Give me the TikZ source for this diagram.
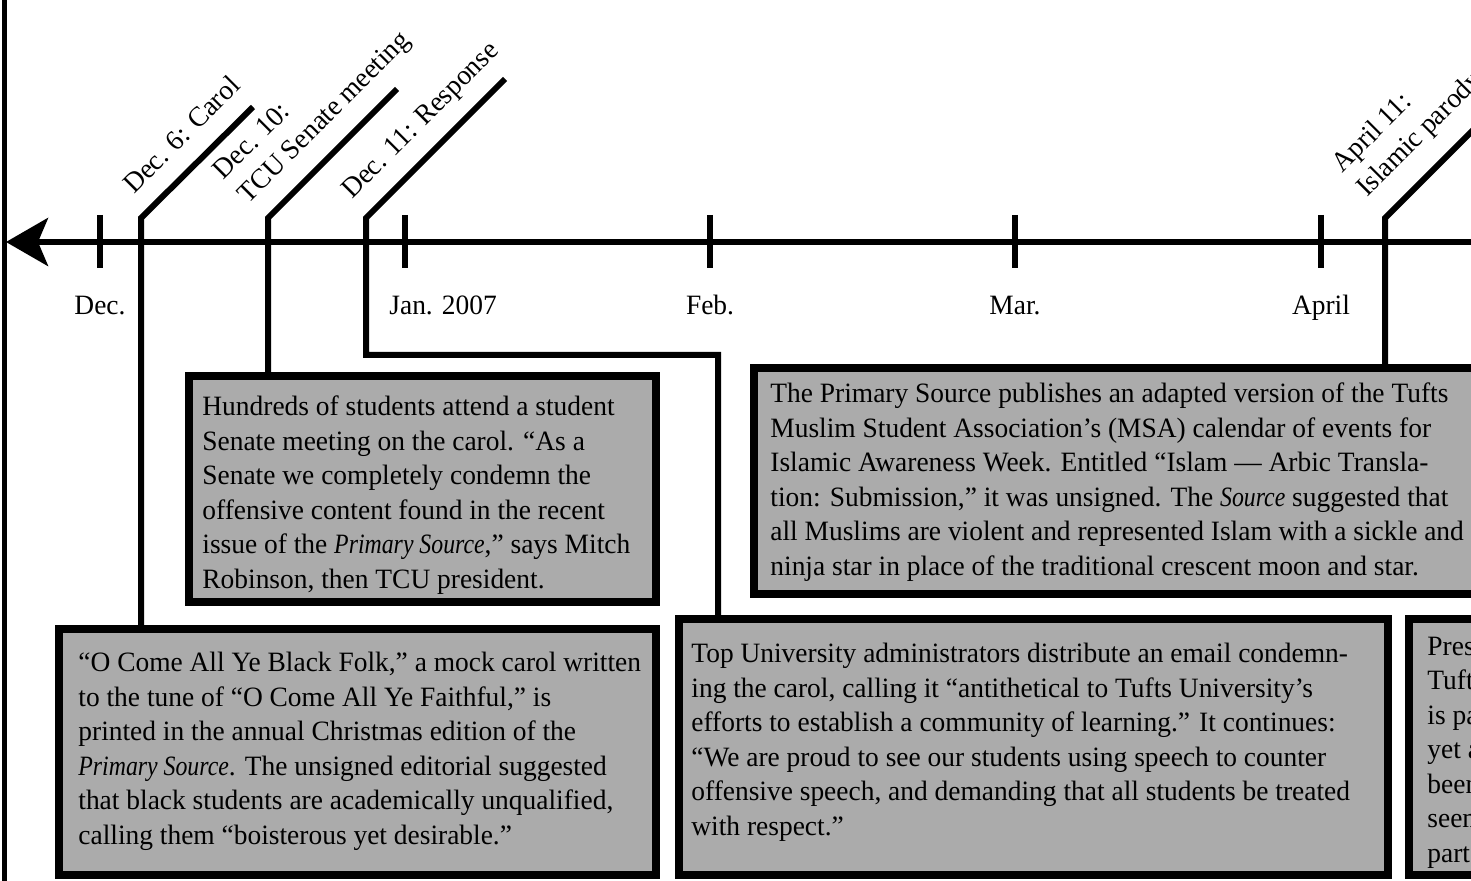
\documentclass[tikz,border=0pt]{standalone}
\usepackage{fontspec}
\setmainfont{Liberation Serif}[FakeStretch=0.98,ItalicFeatures={FakeStretch=0.85}]
\usetikzlibrary{arrows.meta,calc,positioning}
\definecolor{boxgray}{gray}{0.67}
\tikzset{
  infobox/.style={draw=black,fill=boxgray,line width=4pt,inner sep=0pt},
  boxtext/.style={align=left,inner sep=0pt,anchor=base west,font=\fontsize{14}{17.25}\selectfont},
  datelabel/.style={align=left,inner sep=0pt,rotate=45,anchor=base west,font=\fontsize{14}{17.25}\selectfont},
  monthlabel/.style={inner sep=0pt,anchor=base,font=\fontsize{14}{17.25}\selectfont},
  eventline/.style={line width=3pt},
  tickmark/.style={line width=3pt}
}
\begin{document}
\begin{tikzpicture}[x=0.5pt,y=-0.5pt]
\useasboundingbox (0,0) rectangle (1471,881);
\clip (0,0) rectangle (1471,881);
% frame and time axis
\draw[line width=2.5pt] (4,-10) -- (4,890);
\coordinate (axisend) at (1490,242);
\coordinate (axistip) at (6,242);
\draw[line width=3pt,-{Stealth[length=21pt,width=24pt,inset=5pt]}] (axisend) -- (axistip);
\foreach \x/\mon in {100/Dec.,710/Feb.,1015/Mar.,1321/April}{
  \draw[tickmark] (\x,215) -- (\x,268);
  \node[monthlabel] (month\x) at (\x,315) {\mon};
}
\draw[tickmark] (405,215) -- (405,268);
\node[monthlabel,anchor=base west] (month405) at (389,315) {Jan. 2007};
% boxes
\node[infobox,minimum width=233.5pt,minimum height=113pt] (senatebox) at (422.5,489) {};
\node[infobox,minimum width=383pt,minimum height=113pt] (islambox) at (1137,481) {};
\node[infobox,minimum width=298.5pt,minimum height=123pt] (carolbox) at (357.5,752) {};
\node[infobox,minimum width=354.5pt,minimum height=128pt] (adminbox) at (1033.5,747) {};
\node[infobox,minimum width=145.5pt,minimum height=128pt] (presbox) at (1554.5,747) {};
\node[boxtext] (senatetext) at (202,588) {Hundreds of students attend a student\\
Senate meeting on the carol. “As a\\
Senate we completely condemn the\\
offensive content found in the recent\\
issue of the \textit{Primary Source},” says Mitch\\
Robinson, then TCU president.};
\node[boxtext] (islamtext) at (770,575) {The Primary Source publishes an adapted version of the Tufts\\
Muslim Student Association’s (MSA) calendar of events for\\
Islamic Awareness Week. Entitled “Islam — Arbic Transla-\\
tion: Submission,” it was unsigned. The \textit{Source} suggested that\\
all Muslims are violent and represented Islam with a sickle and\\
ninja star in place of the traditional crescent moon and star.};
\node[boxtext] (caroltext) at (78,844) {“O Come All Ye Black Folk,” a mock carol written\\
to the tune of “O Come All Ye Faithful,” is\\
printed in the annual Christmas edition of the\\
\textit{Primary Source}. The unsigned editorial suggested\\
that black students are academically unqualified,\\
calling them “boisterous yet desirable.”};
\node[boxtext] (admintext) at (691,835) {Top University administrators distribute an email condemn-\\
ing the carol, calling it “antithetical to Tufts University’s\\
efforts to establish a community of learning.” It continues:\\
“We are proud to see our students using speech to counter\\
offensive speech, and demanding that all students be treated\\
with respect.”};
\node[boxtext] (prestext) at (1427,862) {Pres\\
Tufts\\
is pa\\
yet a\\
been\\
seem\\
part};
% event markers
\coordinate (carolbend) at (141,218);
\coordinate (senatebend) at (268,218);
\coordinate (respbend) at (366,218);
\coordinate (respturn) at (718,355);
\coordinate (islambend) at (1385,218);
\draw[eventline] (carolbox.north -| carolbend) -- (carolbend) -- ++(112,-111);
\draw[eventline] (senatebox.north -| senatebend) -- (senatebend) -- ++(129,-129);
\draw[eventline] (adminbox.north -| respturn) -- (respturn) -| (respbend) -- ++(139,-139);
\draw[eventline] (islambox.north -| islambend) -- (islambend) -- ++(150,-150);
\node[datelabel] (carollabel) at ($(carolbend)+(-7,-23)$) {Dec. 6: Carol};
\node[datelabel] (senatelabel) at ($(senatebend)+(-20,-13)$) {Dec. 10:\\TCU Senate meeting};
\node[datelabel] (resplabel) at ($(respbend)+(-14,-18)$) {Dec. 11: Response};
\node[datelabel] (islamlabel) at ($(islambend)+(-18,-20)$) {April 11:\\Islamic parody};
\end{tikzpicture}
\end{document}
